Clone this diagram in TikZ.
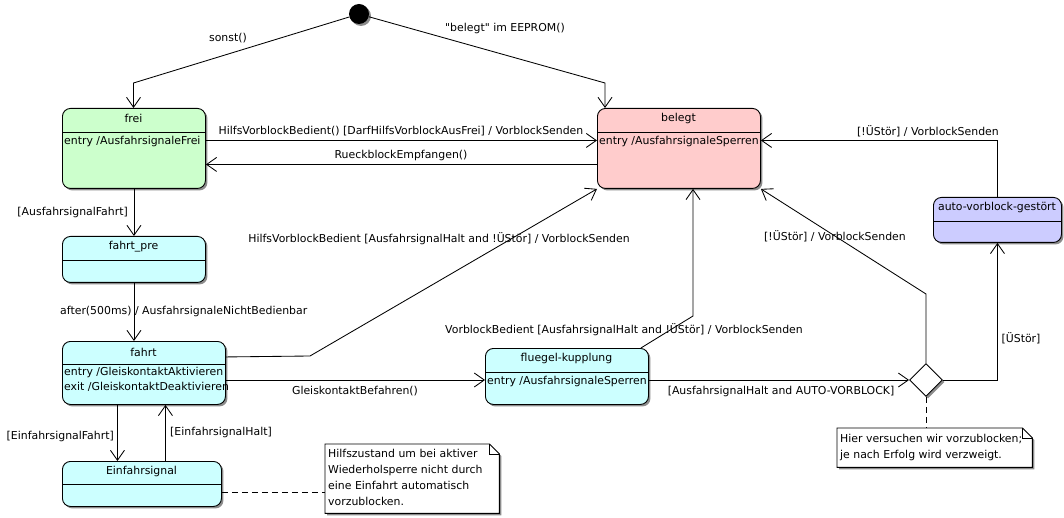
\documentclass[tikz,border=0pt]{standalone}
\usepackage{fontspec}
\setmainfont{DejaVu Sans}
\usetikzlibrary{arrows.meta,shadows,shapes.geometric,calc}
\definecolor{cgreen}{RGB}{204,255,204}
\definecolor{cpink}{RGB}{255,204,204}
\definecolor{ccyan}{RGB}{204,255,255}
\definecolor{clav}{RGB}{204,204,255}
\begin{document}
\begin{tikzpicture}[x=1pt,y=-1pt,
  every node/.style={font=\fontsize{10.9}{13}\selectfont, inner sep=0pt},
  shad/.style={drop shadow={shadow xshift=2pt,shadow yshift=-2pt,fill=black!45,opacity=1}},
  st/.style={draw, line width=0.9pt, rounded corners=8pt, anchor=north west, shad},
  sep/.style={line width=0.9pt},
  tr/.style={line width=0.85pt, -{Straight Barb[length=10pt,width=14pt,line width=0.85pt]}},
  nl/.style={line width=0.85pt, dashed, dash pattern=on 6pt off 4pt},
  notebox/.style={anchor=north west}
]
\useasboundingbox (0,0) rectangle (1064,518);

% initial
\node[circle, fill=black, minimum size=20, shad] (init) at (359,14) {};

% states
\node[st, fill=cgreen, minimum width=143, minimum height=80] (frei) at (62,108) {};
\draw[sep] (frei.west |- 0,132) -- (frei.east |- 0,132);
\node (frei-t) at (133.5,118) {frei};
\node[anchor=west] (frei-e) at (64,141) {entry /AusfahrsignaleFrei};

\node[st, fill=cpink, minimum width=163, minimum height=80] (belegt) at (597,108) {};
\draw[sep] (belegt.west |- 0,132) -- (belegt.east |- 0,132);
\node (belegt-t) at (678.5,118) {belegt};
\node[anchor=west] (belegt-e) at (599,141) {entry /AusfahrsignaleSperren};

\node[st, fill=ccyan, minimum width=143, minimum height=46] (fp) at (62,236) {};
\draw[sep] (fp.west |- 0,260) -- (fp.east |- 0,260);
\node (fp-t) at (133.5,247) {fahrt\_pre};

\node[st, fill=ccyan, minimum width=163, minimum height=63] (fahrt) at (62,341) {};
\draw[sep] (fahrt.west |- 0,364) -- (fahrt.east |- 0,364);
\node (fahrt-t) at (143.5,352) {fahrt};
\node[anchor=west] (fahrt-e1) at (64,372) {entry /GleiskontaktAktivieren};
\node[anchor=west] (fahrt-e2) at (64,387) {exit /GleiskontaktDeaktivieren};

\node[st, fill=ccyan, minimum width=159, minimum height=45] (ef) at (62,461) {};
\draw[sep] (ef.west |- 0,484) -- (ef.east |- 0,484);
\node (ef-t) at (141.5,471) {Einfahrsignal};

\node[st, fill=ccyan, minimum width=163, minimum height=56] (fk) at (485,348) {};
\draw[sep] (fk.west |- 0,372) -- (fk.east |- 0,372);
\node (fk-t) at (566.5,358) {fluegel-kupplung};
\node[anchor=west] (fk-e) at (487,381) {entry /AusfahrsignaleSperren};

\node[st, fill=clav, minimum width=128, minimum height=45] (av) at (933,197) {};
\draw[sep] (av.west |- 0,221) -- (av.east |- 0,221);
\node (av-t) at (997,207) {auto-vorblock-gestört};

% choice
\node[diamond, draw, fill=white, line width=0.9pt, minimum width=33, minimum height=33, shad] (d) at (926,380) {};

% notes
\node[notebox, minimum width=174, minimum height=69] (n1) at (325,444) {};
\fill[black!45] ([shift={(2pt,-2pt)}]n1.north west) -- ([shift={(-8pt,-2pt)}]n1.north east) -- ([shift={(2pt,-12pt)}]n1.north east) -- ([shift={(2pt,-2pt)}]n1.south east) -- ([shift={(2pt,-2pt)}]n1.south west) -- cycle;
\draw[fill=white, line width=0.85pt] (n1.north west) -- ([xshift=-10pt]n1.north east) -- ([yshift=-10pt]n1.north east) -- (n1.south east) -- (n1.south west) -- cycle;
\draw[line width=0.85pt] ([xshift=-10pt]n1.north east) -- ([xshift=-10pt,yshift=-10pt]n1.north east) -- ([yshift=-10pt]n1.north east);
\node[anchor=north west, align=left, font=\fontsize{10.9}{16}\selectfont] (n1-t) at (328,449) {Hilfszustand um bei aktiver\\Wiederholsperre nicht durch\\eine Einfahrt automatisch\\vorzublocken.};

\node[notebox, minimum width=195, minimum height=39] (n2) at (837,428) {};
\fill[black!45] ([shift={(2pt,-2pt)}]n2.north west) -- ([shift={(-8pt,-2pt)}]n2.north east) -- ([shift={(2pt,-12pt)}]n2.north east) -- ([shift={(2pt,-2pt)}]n2.south east) -- ([shift={(2pt,-2pt)}]n2.south west) -- cycle;
\draw[fill=white, line width=0.85pt] (n2.north west) -- ([xshift=-10pt]n2.north east) -- ([yshift=-10pt]n2.north east) -- (n2.south east) -- (n2.south west) -- cycle;
\draw[line width=0.85pt] ([xshift=-10pt]n2.north east) -- ([xshift=-10pt,yshift=-10pt]n2.north east) -- ([yshift=-10pt]n2.north east);
\node[anchor=north west, align=left, font=\fontsize{10.9}{16}\selectfont] (n2-t) at (840,434) {Hier versuchen wir vorzublocken;\\je nach Erfolg wird verzweigt.};

% bend points
\coordinate (c1) at (133.5,83);
\coordinate (c2) at (605,83);
\coordinate (b1) at (310,356);
\coordinate (b2) at (693,316);
\coordinate (b3) at (926,294);

% transitions
\draw[tr] (init) -- (c1) -- (c1 |- frei.north);
\draw[tr] (init) -- (c2) -- (c2 |- belegt.north);
\draw[tr] ([yshift=8pt]frei.east) -- ([yshift=8pt]belegt.west);
\draw[tr] ([yshift=-16pt]belegt.west) -- ([yshift=-16pt]frei.east);
\draw[tr] (frei.south) -- (fp.north);
\draw[tr] (fp.south) -- (fp.south |- fahrt.north);
\draw[tr] ([yshift=16pt]fahrt.east) -- (b1) -- (belegt.south west);
\draw[tr] (fahrt.east |- d) -- (fk.west |- d);
\draw[tr] ([xshift=-8pt]fk.north east) -- (b2) -- (b2 |- belegt.south);
\draw[tr] (fk.east |- d) -- (d.west);
\draw[tr] (d.north) -- (b3) -- (belegt.south east);
\draw[tr] (d.east) -| (av.south);
\draw[tr] (av.north) |- ([yshift=8pt]belegt.east);
\draw[tr] ([xshift=-26.5pt]fahrt.south) -- ([xshift=-26.5pt]fahrt.south |- ef.north);
\draw[tr] ([xshift=21.5pt]fahrt.south |- ef.north) -- ([xshift=21.5pt]fahrt.south);
\draw[nl] (ef.east |- 0,492) -- (n1.west |- 0,492);
\draw[nl] (d.south) -- (d.south |- n2.north);

% labels
\node (l1) at (228,38) {sonst()};
\node (l2) at (505,28) {\textquotedbl belegt\textquotedbl{} im EEPROM()};
\node (l3) at (401,131) {HilfsVorblockBedient() [DarfHilfsVorblockAusFrei] / VorblockSenden};
\node (l4) at (401,155) {RueckblockEmpfangen()};
\node[anchor=east] (l5) at (128,212) {[AusfahrsignalFahrt]};
\node[anchor=west] (l6) at (60,311) {after(500ms) / AusfahrsignaleNichtBedienbar};
\node (l7) at (439,239) {HilfsVorblockBedient [AusfahrsignalHalt and !ÜStör] / VorblockSenden};
\node (l8) at (355,391) {GleiskontaktBefahren()};
\node (l9) at (624,330) {VorblockBedient [AusfahrsignalHalt and !ÜStör] / VorblockSenden};
\node (l10) at (781,391) {[AusfahrsignalHalt and AUTO-VORBLOCK]};
\node (l11) at (835,236) {[!ÜStör] / VorblockSenden};
\node (l12) at (1021,338) {[ÜStör]};
\node (l13) at (928,131) {[!ÜStör] / VorblockSenden};
\node[anchor=east] (l14) at (114,436) {[EinfahrsignalFahrt]};
\node[anchor=west] (l15) at (170,432) {[EinfahrsignalHalt]};
\end{tikzpicture}
\end{document}
